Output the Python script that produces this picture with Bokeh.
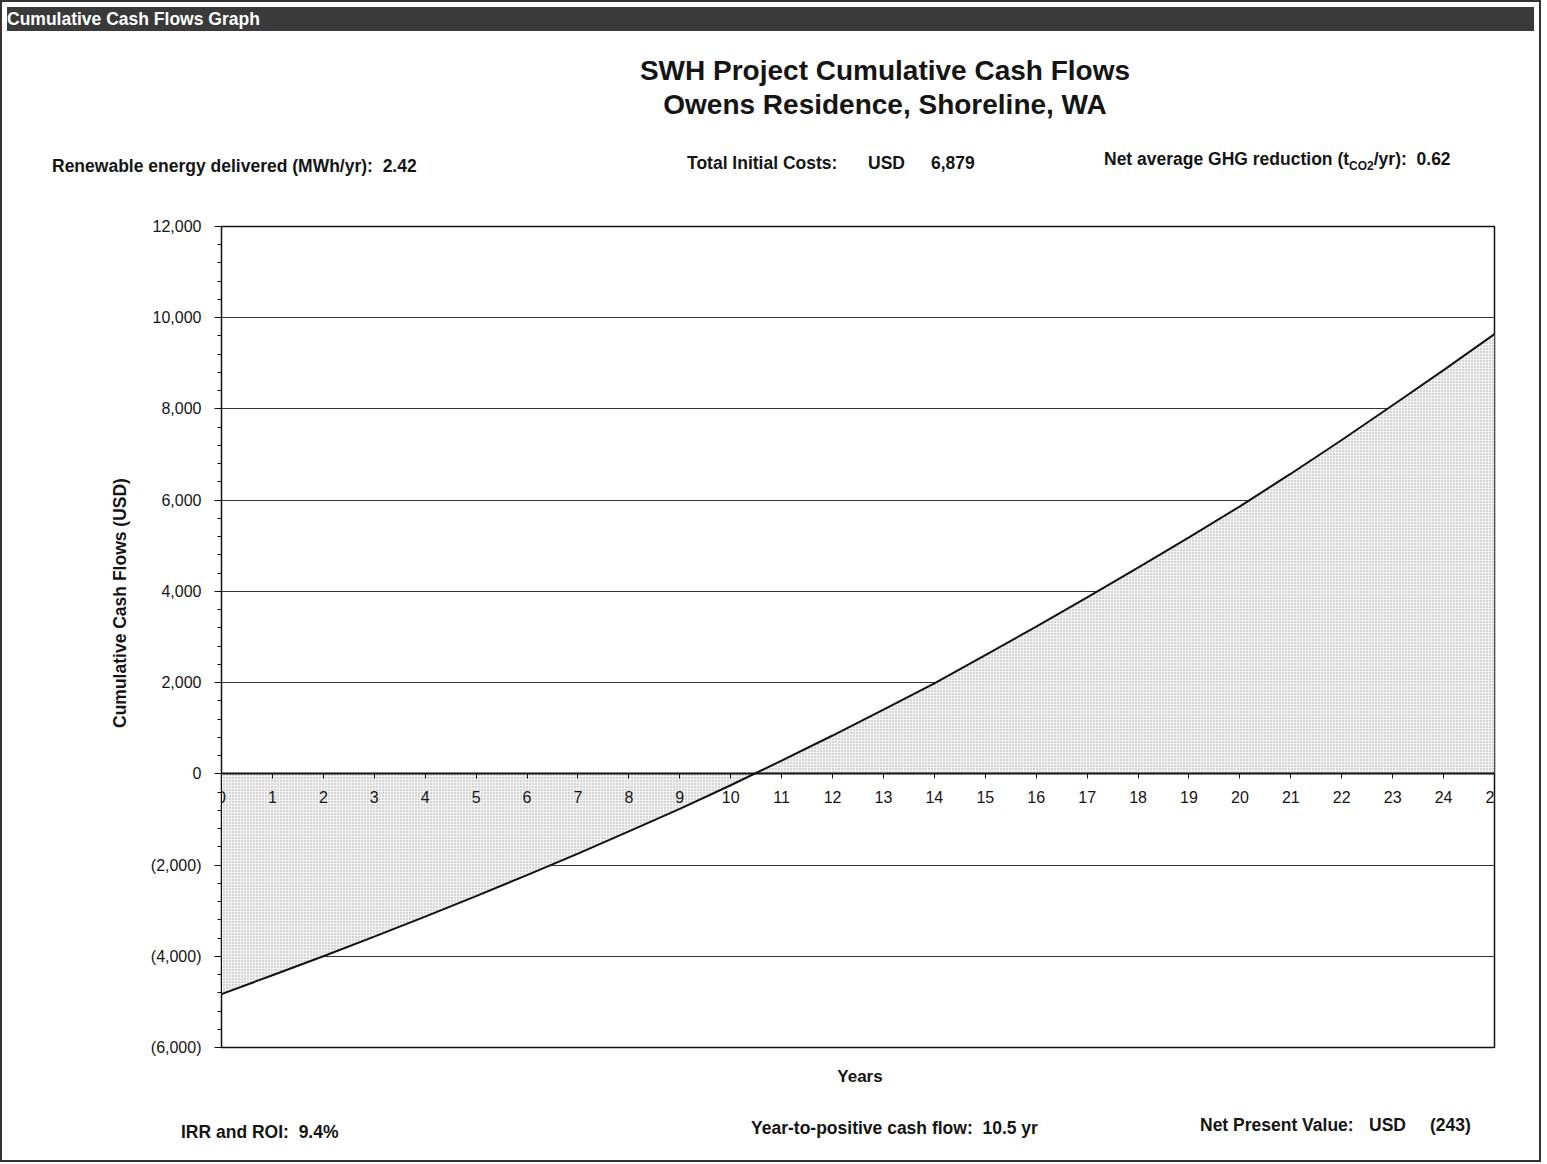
from bokeh.plotting import figure
from bokeh.models import LinearAxis, FixedTicker, NumeralTickFormatter, Div, Range1d
from bokeh.layouts import column, row
from bokeh.embed import file_html
from bokeh.resources import INLINE

# ---------------- data ----------------
years = list(range(26))
cum_cash = [-4830, -4415, -4000, -3570, -3130, -2680, -2220, -1750, -1260, -770,
            -250, 290, 840, 1410, 1985, 2600, 3230, 3870, 4520, 5185,
            5865, 6580, 7320, 8080, 8850, 9640]
zero_line = [0] * len(years)
y_ticks = list(range(-6000, 12001, 2000))
y_minor = list(range(-6000, 12001, 400))
x_ticks = years

header_text = "Cumulative Cash Flows Graph"
title_lines = ["SWH Project Cumulative Cash Flows", "Owens Residence, Shoreline, WA"]
y_title = "Cumulative Cash Flows (USD)"
x_title = "Years"
renewable = "2.42"
initial_cost = "6,879"
ghg = "0.62"
irr = "9.4%"
payback = "10.5 yr"
npv = "(243)"

FONT = "'Liberation Sans', Arial, sans-serif"
W = 1527
INK = "#151515"
YT_W = 130          # width of the strip holding the y-axis title
FIG_H = 860

# ---------------- header ----------------
header = Div(text=(f"<div style=\"width:{W}px;height:24px;background:#3a3a3a;color:#fff;"
                   f"font-family:{FONT};font-size:17.5px;font-weight:bold;line-height:24px;padding-left:0px;"
                   f"box-sizing:border-box;\">{header_text}</div>"),
             width=W, height=24)

def span(left, top, html, size=17.5, bold=True, lh=20):
    return (f"<div style=\"position:absolute;left:{left}px;top:{top}px;white-space:nowrap;"
            f"font-size:{size}px;font-weight:{'bold' if bold else 'normal'};line-height:{lh}px;\">{html}</div>")

top_html = (f"<div style=\"position:relative;width:{W}px;height:154px;font-family:{FONT};color:{INK};\">"
            + (f"<div style=\"position:absolute;left:878px;top:13px;transform:translateX(-50%);"
               f"text-align:center;white-space:nowrap;font-size:28px;font-weight:bold;line-height:34px;\">"
               f"{title_lines[0]}<br>{title_lines[1]}</div>")
            + span(45, 115, f"Renewable energy delivered (MWh/yr):&nbsp; {renewable}")
            + span(680, 112, "Total Initial Costs:")
            + span(861, 112, "USD")
            + span(924, 112, initial_cost)
            + span(1097, 108, f"Net average GHG reduction (t<sub style=\"font-size:12px;\">CO2</sub>/yr):&nbsp; {ghg}")
            + "</div>")
top_div = Div(text=top_html, width=W, height=154)

# ---------------- y-axis title strip ----------------
ytitle_div = Div(text=(f"<div style=\"position:relative;width:{YT_W}px;height:{FIG_H}px;font-family:{FONT};color:{INK};\">"
                       f"<div style=\"position:absolute;left:118px;top:403px;transform:translate(-50%,-50%) rotate(-90deg);"
                       f"white-space:nowrap;font-size:17.5px;font-weight:bold;line-height:20px;\">{y_title}</div></div>"),
                 width=YT_W, height=FIG_H, margin=(0, 0, 0, 0))

# ---------------- chart ----------------
p = figure(width=W - YT_W, height=FIG_H, output_backend="svg", toolbar_location=None,
           x_axis_location=None,
           x_range=Range1d(0, 25), y_range=Range1d(-6000, 12000),
           min_border_left=219 - YT_W, min_border_right=35, min_border_top=26, min_border_bottom=13,
           background_fill_color="white", border_fill_color="white")
p.outline_line_color = "#111111"
p.outline_line_width = 1.5
p.xgrid.visible = False
p.ygrid.ticker = FixedTicker(ticks=y_ticks)
p.ygrid.grid_line_color = "#333333"
p.ygrid.grid_line_width = 1

p.varea(x=years, y1=zero_line, y2=cum_cash, fill_color="#f3f3f3",
        hatch_pattern="dot", hatch_color="#a8a8a8", hatch_scale=3, hatch_weight=0.6)
p.line(years, cum_cash, line_color="#111111", line_width=2)

# y axis
ya = p.yaxis[0]
ya.ticker = FixedTicker(ticks=y_ticks, minor_ticks=y_minor)
ya.formatter = NumeralTickFormatter(format="(0,0)")
ya.major_label_text_font = "Liberation Sans"
ya.major_label_text_font_size = "16px"
ya.major_label_text_color = INK
ya.major_label_standoff = 13
ya.major_tick_out = 7
ya.major_tick_in = 0
ya.minor_tick_out = 4
ya.minor_tick_in = 0
ya.axis_line_color = "#111111"
ya.major_tick_line_color = "#111111"
ya.minor_tick_line_color = "#111111"

# x axis along zero
xa = LinearAxis(fixed_location=0, ticker=FixedTicker(ticks=x_ticks, minor_ticks=[]))
xa.major_label_text_font = "Liberation Sans"
xa.major_label_text_font_size = "16px"
xa.major_label_text_color = INK
xa.major_label_standoff = 12
xa.major_tick_out = 5
xa.major_tick_in = 0
xa.minor_tick_out = 0
xa.axis_line_width = 2
xa.axis_line_color = "#111111"
xa.major_tick_line_color = "#111111"
p.add_layout(xa, "below")

# ---------------- bottom ----------------
bottom_html = (f"<div style=\"position:relative;width:{W}px;height:90px;font-family:{FONT};color:{INK};\">"
               + (f"<div style=\"position:absolute;left:853px;top:2px;transform:translateX(-50%);"
                  f"font-size:17px;font-weight:bold;line-height:20px;\">{x_title}</div>")
               + span(174, 57, f"IRR and ROI:&nbsp; {irr}")
               + span(744, 53, f"Year-to-positive cash flow:&nbsp; {payback}")
               + span(1193, 50, "Net Present Value:")
               + span(1362, 50, "USD")
               + span(1423, 50, npv)
               + "</div>")
bottom_div = Div(text=bottom_html, width=W, height=90)

layout = column(header, top_div, row(ytitle_div, p, spacing=0), bottom_div, spacing=0,
                styles={"border": "2px solid #333333", "background-color": "white"})

open("out.html", "w").write(file_html(layout, INLINE))
